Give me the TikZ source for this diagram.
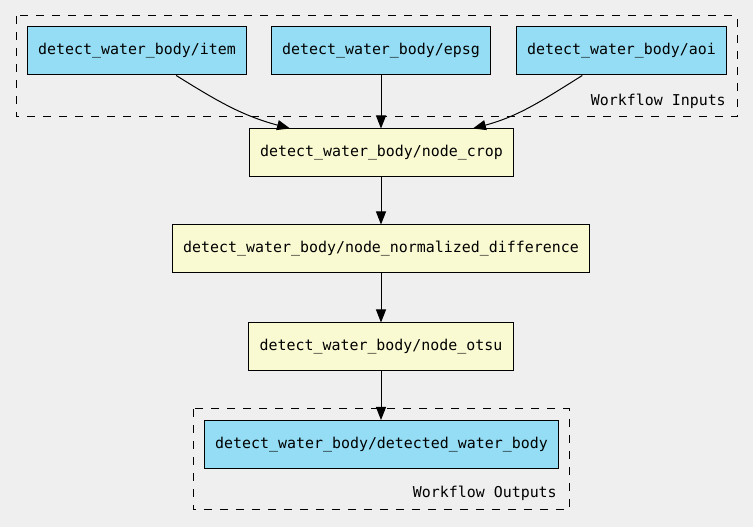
\documentclass[tikz,border=0pt]{standalone}
\usepackage{fontspec}
\setmainfont{DejaVu Sans Mono}
\usetikzlibrary{arrows.meta}
\definecolor{bgcol}{RGB}{239,239,239}
\definecolor{iocol}{RGB}{148,221,244}
\definecolor{stepcol}{RGB}{250,250,210}
\tikzset{
	iobox/.style = {draw, line width=0.75pt, fill=iocol, inner xsep=8.25pt, minimum height=36pt, font=\fontsize{11.2pt}{13pt}\selectfont},
	stepbox/.style = {iobox, fill=stepcol},
	flow/.style = {-{Triangle[length=9.75pt,width=7.5pt]}, line width=0.75pt},
	cluster/.style = {draw, dash pattern=on 6pt off 6pt, line width=0.75pt},
	clusterlabel/.style = {anchor=east, inner sep=0pt, font=\fontsize{11.2pt}{13pt}\selectfont}
}
\begin{document}
\begin{tikzpicture}[x=0.75pt, y=0.75pt]
		\fill [bgcol](0, 0) rectangle (753, 527);
		\useasboundingbox (0, 0) rectangle (753, 527);
		% workflow inputs
		\draw [cluster](16, 511) rectangle (737, 410);
		\node (inlabel)at(726, 426)[clusterlabel]  {Workflow Inputs};
		\node (item)at(137, 476)[iobox]  {detect\_water\_body/item};
		\node (epsg)at(381, 476)[iobox]  {detect\_water\_body/epsg};
		\node (aoi)at(621.5, 476)[iobox]  {detect\_water\_body/aoi};
		% steps
		\node (crop)at(381.5, 374)[stepbox]  {detect\_water\_body/node\_crop};
		\node (normdiff)at(381, 278)[stepbox]  {detect\_water\_body/node\_normalized\_difference};
		\node (otsu)at(381, 180)[stepbox]  {detect\_water\_body/node\_otsu};
		% workflow outputs
		\draw [cluster](193, 118) rectangle (569, 17);
		\node (outlabel)at(557, 34)[clusterlabel]  {Workflow Outputs};
		\node (water)at(381.5, 82.5)[iobox]  {detect\_water\_body/detected\_water\_body};
		\draw [flow](item)to[out=-32, in=165](crop);
		\draw [flow](epsg)--(crop.north -| epsg);
		\draw [flow](aoi)to[out=-148, in=15](crop);
		\draw [flow](crop.south -| normdiff)--(normdiff);
		\draw [flow](normdiff)--(otsu);
		\draw [flow](otsu)--(water.north -| otsu);
	\end{tikzpicture}
\end{document}
